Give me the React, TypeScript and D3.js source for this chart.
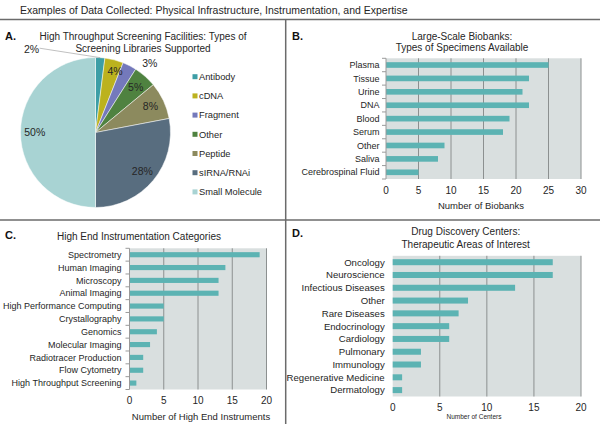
import React from "react";
import * as d3 from "d3";

// ---- Data ----
const pieCategories = ["Antibody", "cDNA", "Fragment", "Other", "Peptide", "sIRNA/RNAi", "Small Molecule"];
const pieValues = [2, 4, 3, 5, 8, 28, 50];
const pieColors = ["#3d9ea6", "#bcb21e", "#7479bb", "#4f8240", "#8c8a5e", "#586d7f", "#a8d3d3"];

const bioCategories = ["Plasma", "Tissue", "Urine", "DNA", "Blood", "Serum", "Other", "Saliva", "Cerebrospinal Fluid"];
const bioValues = [25, 22, 21, 22, 19, 18, 9, 8, 5];
const bioTicks = [0, 5, 10, 15, 20, 25, 30];

const instCategories = ["Spectrometry", "Human Imaging", "Microscopy", "Animal Imaging", "High Performance Computing", "Crystallography", "Genomics", "Molecular Imaging", "Radiotracer Production", "Flow Cytometry", "High Throughput Screening"];
const instValues = [19, 14, 13, 13, 5, 5, 4, 3, 2, 2, 1];
const instTicks = [0, 5, 10, 15, 20];

const drugCategories = ["Oncology", "Neuroscience", "Infectious Diseases", "Other", "Rare Diseases", "Endocrinology", "Cardiology", "Pulmonary", "Immunology", "Regenerative Medicine", "Dermatology"];
const drugValues = [17, 17, 13, 8, 7, 6, 6, 3, 3, 1, 1];
const drugTicks = [0, 5, 10, 15, 20];

// ---- Styles ----
const FONT = "'Liberation Sans', Arial, sans-serif";
const TEXT = "#262626";
const BAR = "#5cb3b3";
const BG = "#d9dfdf";
const GRID = "#8c9090";
const DIVIDER = "#6b6b6b";

type BarProps = {
  cats: string[];
  vals: number[];
  ticks: number[];
  x0: number; x1: number; y0: number; y1: number;
  pad: number;
  axisLine: boolean;
  tickY: number;
  labelGap: number;
  labelSize: number;
};

function BarPanel(p: BarProps) {
  const max = p.ticks[p.ticks.length - 1];
  const x = d3.scaleLinear().domain([0, max]).range([p.x0, p.x1]);
  const y = d3.scaleBand<string>().domain(p.cats).range([p.y0, p.y1]).paddingInner(p.pad).paddingOuter(p.pad / 2);
  const step = y.step();
  return (
    <g fontFamily={FONT}>
      <rect x={p.x0} y={p.y0} width={p.x1 - p.x0} height={p.y1 - p.y0} fill={BG} />
      {p.ticks.filter((t) => t > 0).map((t) => (
        <line key={t} x1={x(t)} x2={x(t)} y1={p.y0} y2={p.y1} stroke={GRID} strokeWidth={1} />
      ))}
      {p.cats.map((c, i) => (
        <rect key={c} x={x(0)} y={y(c)!} width={x(p.vals[i]) - x(0)} height={y.bandwidth()} fill={BAR} />
      ))}
      {p.axisLine && (
        <g stroke="#9a9a9a" strokeWidth={1}>
          <line x1={p.x0} x2={p.x0} y1={p.y0} y2={p.y1} />
          {d3.range(p.cats.length + 1).map((i) => (
            <line key={i} x1={p.x0 - 4} x2={p.x0} y1={p.y0 + i * step} y2={p.y0 + i * step} />
          ))}
        </g>
      )}
      {p.cats.map((c) => (
        <text key={c} x={p.x0 - p.labelGap} y={y(c)! + y.bandwidth() / 2} dy="0.35em" textAnchor="end" fontSize={p.labelSize} fill={TEXT}>{c}</text>
      ))}
      {p.ticks.map((t) => (
        <text key={t} x={x(t)} y={p.tickY} dy="0.35em" textAnchor="middle" fontSize={10} fill={TEXT}>{t}</text>
      ))}
    </g>
  );
}

function PiePanel() {
  const cx = 95.5, cy = 132.5, R = 75;
  const pie = d3.pie<number>().sort(null).value((d) => d);
  const arcs = pie(pieValues);
  const arc = d3.arc<d3.PieArcDatum<number>>().innerRadius(0).outerRadius(R);
  const labelArc = d3.arc<d3.PieArcDatum<number>>().innerRadius(R * 0.81).outerRadius(R * 0.81);
  // label placement overrides (angle in degrees from 12 o'clock, radius factor)
  const outside: Record<string, { a: number; r: number }> = {
    Antibody: { a: -37.5, r: 1.4 },
    Fragment: { a: 38.3, r: 1.17 },
    cDNA: { a: 17.6, r: 0.86 },
  };
  return (
    <g fontFamily={FONT}>
      <g transform={`translate(${cx},${cy})`}>
        {arcs.map((a, i) => (
          <path key={i} d={arc(a)!} fill={pieColors[i]} stroke="#ffffff" strokeWidth={0.5} />
        ))}
        {arcs.map((a, i) => {
          const cat = pieCategories[i];
          let lx: number, ly: number;
          const o = outside[cat];
          if (o) {
            const ang = (o.a * Math.PI) / 180;
            lx = Math.sin(ang) * R * o.r;
            ly = -Math.cos(ang) * R * o.r;
          } else {
            [lx, ly] = labelArc.centroid(a);
          }
          const mid = (a.startAngle + a.endAngle) / 2;
          return (
            <g key={cat}>
              {cat === "Antibody" && (
                <line x1={lx + 8} y1={ly - 1} x2={Math.sin(mid) * R} y2={-Math.cos(mid) * R} stroke="#b0b0b0" strokeWidth={0.8} />
              )}
              <text x={lx} y={ly} dy="0.35em" textAnchor="middle" fontSize={10.5} fill={TEXT}>{`${pieValues[i]}%`}</text>
            </g>
          );
        })}
      </g>
      {pieCategories.map((c, i) => (
        <g key={c} transform={`translate(192.5,${76.7 + i * 19.2})`}>
          <rect x={0} y={-2.5} width={5} height={5} fill={pieColors[i]} />
          <text x={6.5} y={0} dy="0.35em" fontSize={9.3} fill={TEXT}>{c}</text>
        </g>
      ))}
    </g>
  );
}

export default function App() {
  return (
    <svg width={600} height={424} viewBox="0 0 600 424" style={{ position: "absolute", left: 0, top: 0, background: "#fff" }} fontFamily={FONT}>
      <rect width={600} height={424} fill="#fff" />
      <text x={20} y={10} dy="0.35em" fontSize={10.5} fill={TEXT}>Examples of Data Collected: Physical Infrastructure,  Instrumentation,  and Expertise</text>
      <g stroke={DIVIDER} strokeWidth={1.5}>
        <line x1={0} x2={600} y1={19.5} y2={19.5} />
        <line x1={0} x2={600} y1={220} y2={220} />
        <line x1={285.7} x2={285.7} y1={19.5} y2={424} />
      </g>
      {/* Panel labels */}
      <g fontWeight="bold" fontSize={11} fill="#111">
        <text x={5} y={36} dy="0.35em">A.</text>
        <text x={292} y={36} dy="0.35em">B.</text>
        <text x={5} y={235} dy="0.35em">C.</text>
        <text x={292} y={233} dy="0.35em">D.</text>
      </g>
      {/* Panel titles */}
      <g fontSize={10} fill={TEXT} textAnchor="middle">
        <text x={143} y={36} dy="0.35em" textLength={207} lengthAdjust="spacing">High Throughput Screening Facilities: Types of</text>
        <text x={143} y={48} dy="0.35em">Screening Libraries Supported</text>
        <text x={462} y={36.5} dy="0.35em">Large-Scale Biobanks:</text>
        <text x={462} y={47.7} dy="0.35em">Types of Specimens Available</text>
        <text x={139} y={236.7} dy="0.35em">High End Instrumentation  Categories</text>
        <text x={465.7} y={231.7} dy="0.35em">Drug Discovery Centers:</text>
        <text x={465.7} y={244.3} dy="0.35em">Therapeutic  Areas of Interest</text>
      </g>
      <PiePanel />
      <BarPanel cats={bioCategories} vals={bioValues} ticks={bioTicks} x0={386} x1={581} y0={58.3} y1={179} pad={0.58} axisLine tickY={190} labelGap={6.5} labelSize={9} />
      <BarPanel cats={instCategories} vals={instValues} ticks={instTicks} x0={129.5} x1={266.5} y0={248.3} y1={389.5} pad={0.6} axisLine tickY={400.7} labelGap={8} labelSize={9} />
      <BarPanel cats={drugCategories} vals={drugValues} ticks={drugTicks} x0={392.7} x1={581} y0={255.8} y1={396.5} pad={0.53} axisLine={false} tickY={407.7} labelGap={8} labelSize={9.6} />
      {/* Axis titles */}
      <g fill={TEXT} textAnchor="middle">
        <text x={481} y={206} dy="0.35em" fontSize={9.5}>Number of Biobanks</text>
        <text x={201} y={416.7} dy="0.35em" fontSize={9.5}>Number of High End Instruments</text>
        <text x={474} y={417} dy="0.35em" fontSize={6.5}>Number of Centers</text>
      </g>
    </svg>
  );
}
